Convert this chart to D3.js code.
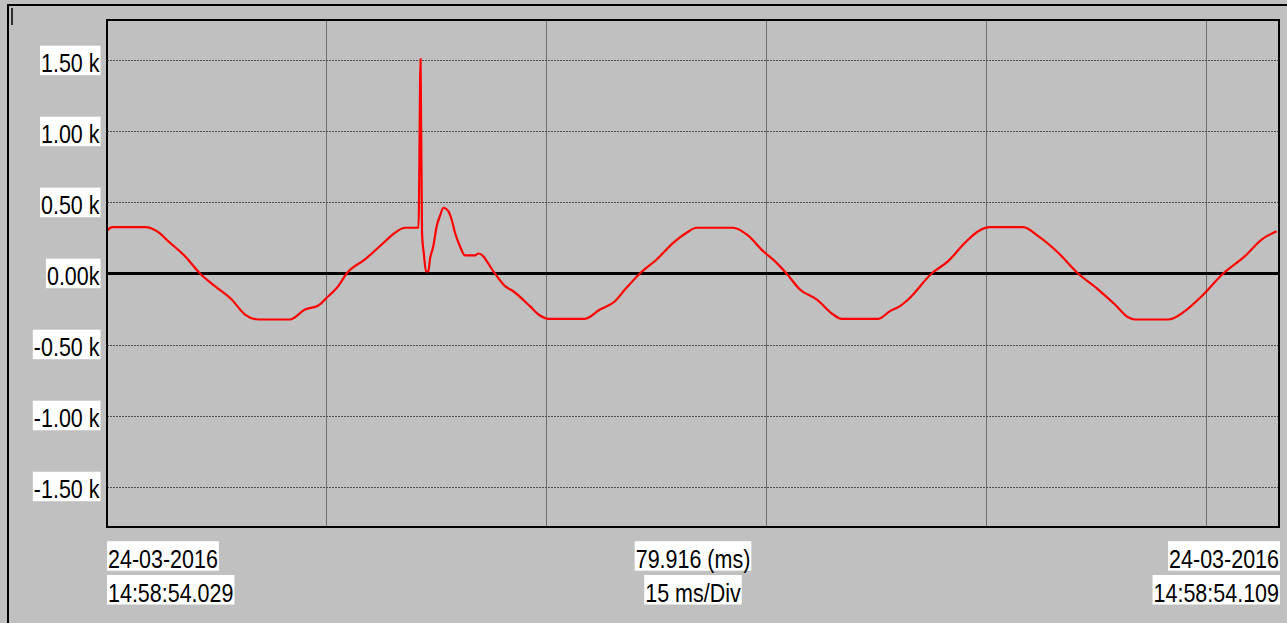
<!DOCTYPE html>
<html>
<head>
<meta charset="utf-8">
<script src="https://cdn.jsdelivr.net/npm/d3@7"></script>
<style>
  html, body { margin: 0; padding: 0; background: #c0c0c0; }
  svg { display: block; }
  text { font-family: "Liberation Sans", Arial, sans-serif; font-size: 25px; fill: #000; }
</style>
</head>
<body>
<svg id="scope" width="1287" height="623"></svg>
<script>
// time in ms, value in k
var timeMs = [0.05, 0.34, 2.59, 3.50, 4.18, 5.32, 6.34, 7.36, 8.50, 9.41, 10.32, 12.48, 13.50, 14.41, 14.98, 15.77, 16.34,
  17.59, 18.73, 19.64, 20.32, 21.24, 21.38, 21.48, 21.61, 21.75, 21.91, 22.02, 22.25, 22.48, 22.70, 22.94, 23.27,
  23.50, 23.73, 24.07, 24.41, 25.09, 25.32, 25.66, 25.89, 26.45, 27.14, 27.70, 28.84, 29.52, 30.09, 32.59, 33.61,
  34.64, 35.32, 36.34, 37.48, 38.61, 39.52, 40.21, 42.70, 43.62, 44.75, 45.66, 46.34, 47.25, 48.39, 49.52, 50.09,
  52.59, 53.39, 54.07, 54.63, 56.23, 57.36, 58.50, 59.41, 60.20, 62.48, 63.50, 64.86, 66.22, 67.59, 68.73, 69.63,
  70.09, 72.36, 73.50, 74.64, 76.11, 77.59, 78.73, 79.75];
var valueK = [0.305, 0.326, 0.326, 0.291, 0.227, 0.122, 0.000, -0.089, -0.183, -0.289, -0.324, -0.324, -0.254, -0.225, -0.171, -0.089, 0.000,
  0.099, 0.204, 0.287, 0.322, 0.322, 1.510, 0.289, 0.134, 0.014, 0.014, 0.099, 0.192, 0.333, 0.404, 0.463, 0.439,
  0.380, 0.287, 0.192, 0.127, 0.127, 0.141, 0.122, 0.087, 0.000, -0.089, -0.125, -0.230, -0.296, -0.319, -0.319, -0.254,
  -0.195, -0.113, 0.000, 0.099, 0.216, 0.287, 0.322, 0.322, 0.275, 0.157, 0.075, 0.000, -0.113, -0.183, -0.289, -0.319,
  -0.319, -0.265, -0.230, -0.183, 0.000, 0.087, 0.216, 0.298, 0.326, 0.326, 0.263, 0.146, 0.000, -0.113, -0.218, -0.308,
  -0.324, -0.324, -0.265, -0.160, 0.000, 0.122, 0.239, 0.298];

var yTicks = [1.5, 1.0, 0.5, 0.0, -0.5, -1.0, -1.5];
var yTickLabels = ["1.50 k", "1.00 k", "0.50 k", "0.00k", "-0.50 k", "-1.00 k", "-1.50 k"];
var xDivs = [15, 30, 45, 60, 75];
var totalMs = 79.916;
var startLabel = ["24-03-2016", "14:58:54.029"];
var midLabel = ["79.916 (ms)", "15 ms/Div"];
var endLabel = ["24-03-2016", "14:58:54.109"];

var svg = d3.select("#scope");
var plotL = 107, plotR = 1279, plotT = 20, plotB = 527;

var x = d3.scaleLinear().domain([0, totalMs]).range([plotL, plotR]);
var y = d3.scaleLinear().domain([-1.785, 1.785]).range([plotB, plotT]);

// outer frame
svg.append("line").attr("x1", 8).attr("x2", 1287).attr("y1", 5).attr("y2", 5)
  .attr("stroke", "#000").attr("stroke-width", 2);
svg.append("line").attr("x1", 8).attr("x2", 8).attr("y1", 4).attr("y2", 623)
  .attr("stroke", "#000").attr("stroke-width", 2);
svg.append("line").attr("x1", 12).attr("x2", 12).attr("y1", 8).attr("y2", 25)
  .attr("stroke", "#000").attr("stroke-width", 1.5);

// vertical divisions
svg.append("g").selectAll("line").data(xDivs).join("line")
  .attr("x1", d => Math.round(x(d)) - 0.5).attr("x2", d => Math.round(x(d)) - 0.5)
  .attr("y1", plotT).attr("y2", plotB)
  .attr("stroke", "#6e6e6e").attr("stroke-width", 1);

// horizontal dotted grid
svg.append("g").selectAll("line").data(yTicks.filter(d => d !== 0)).join("line")
  .attr("x1", plotL).attr("x2", plotR)
  .attr("y1", d => Math.round(y(d)) + 0.5).attr("y2", d => Math.round(y(d)) + 0.5)
  .attr("stroke", "#505050").attr("stroke-width", 1).attr("stroke-dasharray", "2,1");

// zero line
svg.append("line").attr("x1", plotL).attr("x2", plotR).attr("y1", y(0)).attr("y2", y(0))
  .attr("stroke", "#000").attr("stroke-width", 3);

// waveform
var pts = timeMs.map((t, i) => [x(t), y(valueK[i])]);
svg.append("path")
  .attr("d", d3.line().curve(d3.curveMonotoneX)(pts))
  .attr("fill", "none").attr("stroke", "#ff0000").attr("stroke-width", 2.2)
  .attr("stroke-linejoin", "miter");

// plot frame
svg.append("rect").attr("x", plotL).attr("y", plotT)
  .attr("width", plotR - plotL).attr("height", plotB - plotT)
  .attr("fill", "none").attr("stroke", "#000").attr("stroke-width", 2);

// text with white box, narrowed like the original
var sx = 0.86;
function label(px, baseline, txt, anchor) {
  var g = svg.append("g").attr("transform", "translate(" + px + "," + baseline + ") scale(" + sx + ",1)");
  var r = g.append("rect").attr("fill", "#fff");
  var t = g.append("text").attr("text-anchor", anchor).text(txt);
  var w = t.node().getComputedTextLength() + 2 / sx;
  var x0 = anchor === "end" ? -w + 1 / sx : anchor === "middle" ? -w / 2 : -1 / sx;
  r.attr("x", x0).attr("y", -26.5).attr("width", w).attr("height", 29.5);
}

yTicks.forEach((d, i) => label(99.5, y(d) + 11.7, yTickLabels[i], "end"));

var base1 = 567.7, base2 = 601.5;
label(plotL + 1, base1, startLabel[0], "start");
label(plotL + 1, base2, startLabel[1], "start");
label((plotL + plotR) / 2, base1, midLabel[0], "middle");
label((plotL + plotR) / 2, base2, midLabel[1], "middle");
label(plotR, base1, endLabel[0], "end");
label(plotR, base2, endLabel[1], "end");
</script>
</body>
</html>
